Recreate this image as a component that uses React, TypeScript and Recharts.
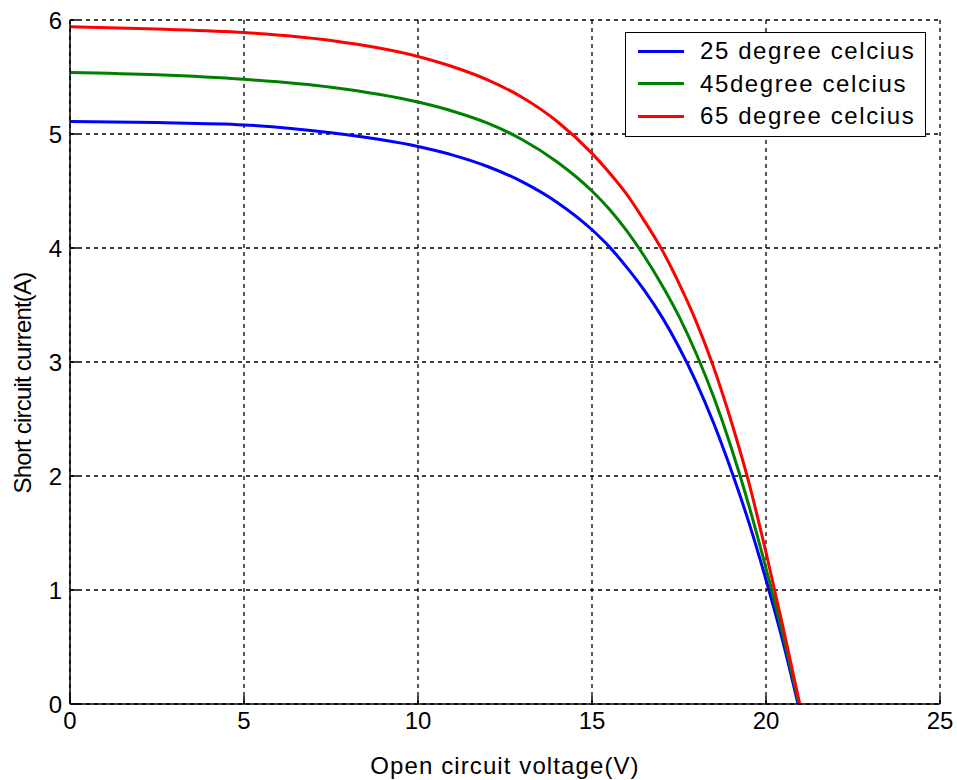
import { LineChart, Line, XAxis, YAxis, CartesianGrid, Legend } from 'recharts';

const xTicks = [0, 5, 10, 15, 20, 25];
const yTicks = [0, 1, 2, 3, 4, 5, 6];

const seriesNames = ['25 degree celcius', '45degree celcius', '65 degree celcius'];
const seriesColors = ['#0000ff', '#008000', '#ff0000'];

const blueV = [0, 2.5, 5, 7.5, 10, 11, 12, 13, 14, 15, 15.5, 16, 16.5, 17, 17.5, 18, 18.5, 19, 19.5, 20, 20.5, 20.92];
const blueI = [5.11, 5.1, 5.08, 5.01, 4.89, 4.815, 4.715, 4.58, 4.4, 4.16, 4.01, 3.83, 3.63, 3.4, 3.13, 2.82, 2.46, 2.05, 1.6, 1.09, 0.53, 0];

const greenV = [0, 2.5, 5, 7.5, 10, 11, 12, 13, 14, 15, 15.5, 16, 16.5, 17, 17.5, 18, 18.5, 19, 19.5, 20, 20.5, 20.95];
const greenI = [5.54, 5.52, 5.48, 5.41, 5.28, 5.2, 5.095, 4.95, 4.755, 4.5, 4.34, 4.15, 3.93, 3.68, 3.4, 3.07, 2.69, 2.25, 1.75, 1.19, 0.59, 0];

const redV = [0, 2.5, 5, 7.5, 10, 11, 12, 13, 14, 15, 15.5, 16, 16.5, 17, 17.5, 18, 18.5, 19, 19.5, 20, 20.5, 20.97];
const redI = [5.94, 5.92, 5.89, 5.82, 5.68, 5.59, 5.475, 5.32, 5.11, 4.83, 4.66, 4.47, 4.24, 3.99, 3.69, 3.35, 2.95, 2.48, 1.95, 1.33, 0.66, 0];

const toPoints = (v: number[], i: number[]) => v.map((x, k) => ({ v: x, i: i[k] }));

const series = [toPoints(blueV, blueI), toPoints(greenV, greenI), toPoints(redV, redI)];

const font = '"Liberation Sans", Arial, sans-serif';
const tickStyle = { fontSize: 24, fill: '#000', fontFamily: font };

function LegendBox() {
  return (
    <div
      style={{
        width: 301,
        height: 105,
        background: '#fff',
        border: '1.5px solid #000',
        fontFamily: font,
        fontSize: 24,
        letterSpacing: 1.6,
        color: '#000',
        boxSizing: 'border-box',
        paddingTop: 2,
        whiteSpace: 'nowrap',
      }}
    >
      {seriesNames.map((name, k) => (
        <div key={name} style={{ display: 'flex', alignItems: 'center', height: 32.5 }}>
          <div style={{ width: 46, height: 3, background: seriesColors[k], marginLeft: 12, marginRight: 16, flexShrink: 0 }} />
          <span>{name}</span>
        </div>
      ))}
    </div>
  );
}

export default function App() {
  return (
    <div style={{ position: 'absolute', left: 0, top: 0, width: 957, height: 780, background: '#fff' }}>
      <LineChart width={957} height={780} margin={{ top: 20, right: 17, bottom: 0, left: 0 }}>
        <CartesianGrid stroke="#000" strokeDasharray="4 4" strokeWidth={1.3} />
        <XAxis
          dataKey="v"
          type="number"
          domain={[0, 25]}
          ticks={xTicks}
          height={76}
          stroke="#000"
          strokeWidth={1.5}
          tickSize={-8}
          tickMargin={16}
          tick={tickStyle}
          allowDataOverflow
          label={{ value: 'Open circuit voltage(V)', position: 'insideBottom', offset: 6, style: { ...tickStyle, letterSpacing: 1.1 } }}
        />
        <XAxis
          xAxisId="top"
          orientation="top"
          type="number"
          domain={[0, 25]}
          ticks={xTicks}
          height={0}
          stroke="#000"
          strokeWidth={1.5}
          tickSize={-8}
          tick={false}
        />
        <YAxis
          type="number"
          domain={[0, 6]}
          ticks={yTicks}
          width={70}
          stroke="#000"
          strokeWidth={1.5}
          tickSize={-8}
          tickMargin={16}
          tick={tickStyle}
          allowDataOverflow
          label={{ value: 'Short circuit current(A)', angle: -90, position: 'center', dx: -13, dy: 21, style: { ...tickStyle, letterSpacing: -0.8 } }}
        />
        <YAxis
          yAxisId="right"
          orientation="right"
          type="number"
          domain={[0, 6]}
          ticks={yTicks}
          width={0}
          stroke="#000"
          strokeWidth={1.5}
          tickSize={-8}
          tick={false}
        />
        {series.map((pts, k) => (
          <Line
            key={seriesNames[k]}
            data={pts}
            dataKey="i"
            name={seriesNames[k]}
            type="monotone"
            stroke={seriesColors[k]}
            strokeWidth={3}
            dot={false}
            isAnimationActive={false}
          />
        ))}
        <Legend
          layout="vertical"
          align="center"
          verticalAlign="middle"
          content={() => <LegendBox />}
          wrapperStyle={{ position: 'absolute', left: 625, top: 32, width: 'auto' }}
        />
      </LineChart>
    </div>
  );
}
